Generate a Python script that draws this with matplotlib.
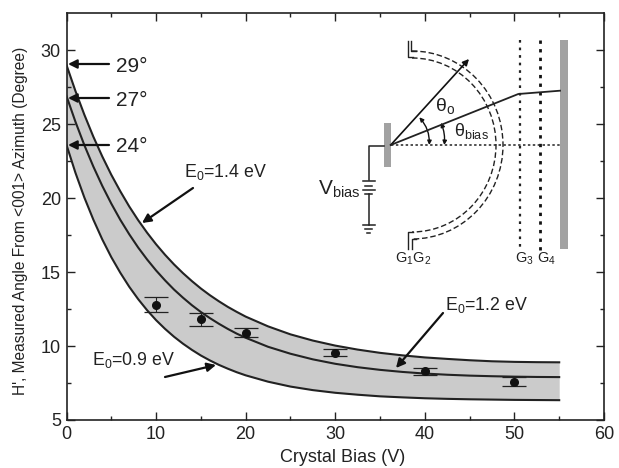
import numpy as np
import matplotlib
matplotlib.use('Agg')
import matplotlib.pyplot as plt
from matplotlib.patches import Arc, FancyArrowPatch, Rectangle

plt.rcParams['font.family'] = ['Liberation Sans', 'DejaVu Sans']
plt.rcParams['mathtext.fontset'] = 'custom'
plt.rcParams['mathtext.rm'] = 'Liberation Sans'
plt.rcParams['mathtext.default'] = 'regular'

# curves
bias = [0, 1, 2, 3, 4, 5, 6, 7, 8, 9, 10, 11, 12, 13, 14, 15, 16, 17, 18, 19, 20,
        22.5, 25, 27.5, 30, 32.5, 35, 37.5, 40, 42.5, 45, 47.5, 50, 52.5, 55]
e14 = [29.0, 27.24, 25.63, 24.15, 22.81, 21.58, 20.47, 19.44, 18.51, 17.66, 16.88,
       16.17, 15.52, 14.93, 14.39, 13.89, 13.44, 13.03, 12.65, 12.31, 11.99,
       11.33, 10.79, 10.37, 10.03, 9.76, 9.54, 9.37, 9.23, 9.13, 9.04, 8.97, 8.93, 8.91, 8.9]
e12 = [26.9, 25.16, 23.57, 22.13, 20.82, 19.63, 18.54, 17.56, 16.66, 15.85, 15.11,
       14.44, 13.82, 13.27, 12.76, 12.30, 11.89, 11.51, 11.16, 10.84, 10.56,
       9.95, 9.48, 9.10, 8.80, 8.57, 8.39, 8.25, 8.14, 8.06, 8.0, 7.96, 7.93, 7.91, 7.9]
e09 = [23.6, 21.71, 20.03, 18.54, 17.20, 16.01, 14.96, 14.01, 13.17, 12.42, 11.75,
       11.16, 10.63, 10.16, 9.74, 9.36, 9.03, 8.73, 8.47, 8.23, 8.02,
       7.59, 7.26, 7.02, 6.84, 6.71, 6.60, 6.53, 6.47, 6.43, 6.40, 6.38, 6.36, 6.35, 6.34]

# measured points
meas_x = [10, 15, 20, 30, 40, 50]
meas_y = [12.8, 11.8, 10.9, 9.55, 8.3, 7.6]
meas_err = [0.5, 0.45, 0.3, 0.25, 0.23, 0.3]

ink = '#222222'

fig = plt.figure(figsize=(6.19, 4.68), dpi=100)
ax = fig.add_axes([66.5/619, 48/468, 537.5/619, 407.5/468])

ax.fill_between(bias, e09, e14, color='#cbcbcb', lw=0)
for yy in (e14, e12, e09):
    ax.plot(bias, yy, color=ink, lw=1.5)
ax.errorbar(meas_x, meas_y, yerr=meas_err, fmt='o', ms=5.5, color='#111111',
            ecolor=ink, elinewidth=0.8, capsize=8.5, capthick=0.9)

ax.set_xlim(0, 60)
ax.set_ylim(5, 32.55)
ax.set_xticks(range(0, 61, 10))
ax.set_xticks(range(5, 60, 10), minor=True)
ax.set_yticks(range(5, 31, 5))
ax.set_yticks(np.arange(7.5, 32, 5), minor=True)
ax.tick_params(which='major', direction='in', length=6, width=1, top=True, right=True,
               labelsize=13, colors=ink, pad=4)
ax.tick_params(which='minor', direction='in', length=3, width=1, top=True, right=True, colors=ink)
for s in ax.spines.values():
    s.set_linewidth(1.2)
    s.set_color(ink)
ax.set_xlabel('Crystal Bias (V)', fontsize=13, color=ink)
ax.xaxis.set_label_coords((343 - 66.5) / 537.5, (420 - 449) / 407.5)
ax.set_ylabel("H', Measured Angle From <001> Azimuth (Degree)", fontsize=11.2, color=ink)
ax.yaxis.set_label_coords((28 - 66.5) / 537.5, (420 - 221) / 407.5)

# overlay in picture pixels for the callouts and the analyser sketch
ov = fig.add_axes([0, 0, 1, 1])
ov.set_xlim(0, 619)
ov.set_ylim(468, 0)
ov.axis('off')
ov.patch.set_alpha(0)


def arrow(tail, tip, lw=1.6, scale=13):
    ov.add_patch(FancyArrowPatch(tail, tip, arrowstyle='-|>', mutation_scale=scale,
                                 color='#111111', lw=lw, shrinkA=0, shrinkB=0))


# angle callouts
for label, py in zip(['29°', '27°', '24°'], [64, 98, 145]):
    arrow((109, py), (68, py))
    ov.text(116, py + 2, label, fontsize=15, color=ink, va='center', ha='left')

arrow((193, 188), (142, 223))
arrow((165, 377), (216, 365))
arrow((443, 313), (396, 368))
ov.text(184, 172, 'E$_0$=1.4 eV', fontsize=12.8, color=ink, va='center')
ov.text(92, 360, 'E$_0$=0.9 eV', fontsize=12.8, color=ink, va='center')
ov.text(445, 305, 'E$_0$=1.2 eV', fontsize=12.8, color=ink, va='center')

# crystal and detector
ov.add_patch(Rectangle((383.5, 123), 7, 44, color='#a2a2a2', lw=0))
ov.add_patch(Rectangle((560, 40), 8, 209, color='#a2a2a2', lw=0))

# hemispherical grids
for r_x, r_y in [(168, 174), (182, 188)]:
    ov.add_patch(Arc((412, 145), r_x, r_y, theta1=-90, theta2=90, color=ink, lw=1,
                     ls=(0, (4, 2))))
for xs, ys in [([407.7, 407.7, 413], [40.7, 57.3, 57.3]),
               ([411, 411, 416], [40.7, 50.7, 50.7]),
               ([407.7, 407.7, 413], [249, 232, 232]),
               ([411.5, 411.5, 416], [249, 238.5, 238.5])]:
    ov.plot(xs, ys, color=ink, lw=1)

# flat grids and axis line
ov.plot([520, 520], [40, 250], color=ink, lw=1.6, ls=(0, (1.2, 2.2)))
ov.plot([540.3, 540.3], [40, 250], color='#111111', lw=2, ls=(0, (1.2, 1.9)))
ov.plot([391, 560], [145, 145], color=ink, lw=1.1, ls=(0, (1.6, 1.6)))

# trajectories
ov.plot([390.7, 518.3, 560], [145, 94, 90.7], color=ink, lw=1.3)
arrow((390.7, 145), (469, 59), lw=1.2, scale=9)
for tail, tip, rad in [((419.3, 117.3), (429.3, 145), -0.2), ((441, 122.7), (444.3, 145), -0.12)]:
    ov.add_patch(FancyArrowPatch(tail, tip, arrowstyle='<|-|>', mutation_scale=6, color='#111111',
                                 lw=1, shrinkA=0, shrinkB=0, connectionstyle=f'arc3,rad={rad}'))

ov.text(435, 106, 'θ$_o$', fontsize=14, color=ink, va='center')
ov.text(454, 131, 'θ$_{bias}$', fontsize=13, color=ink, va='center')
ov.text(318, 189, 'V$_{bias}$', fontsize=15, color=ink, va='center')

# bias supply
ov.plot([383.5, 368.5, 368.5], [146, 146, 180], color=ink, lw=1.1)
ov.plot([368.5, 368.5], [194, 225], color=ink, lw=1.1)
for half, py in [(6, 181), (3.5, 186), (6, 190), (3.5, 194), (6, 225), (3.5, 229), (1.8, 233)]:
    ov.plot([368.5 - half, 368.5 + half], [py, py], color=ink, lw=1.1)

ov.text(395, 259, 'G$_1$G$_2$', fontsize=10.5, color=ink, va='center')
ov.text(515, 259, 'G$_3$', fontsize=10.5, color=ink, va='center')
ov.text(537, 259, 'G$_4$', fontsize=10.5, color=ink, va='center')

fig.savefig('out.png', dpi=100)
